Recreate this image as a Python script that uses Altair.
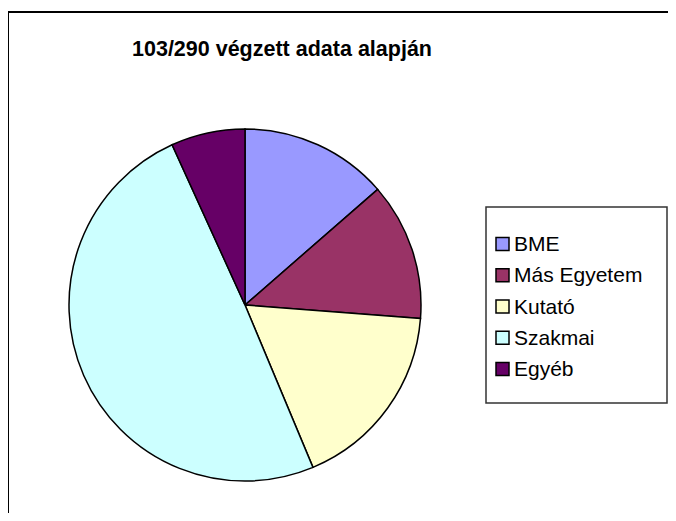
import altair as alt
import pandas as pd

categories = ["BME", "Más Egyetem", "Kutató", "Szakmai", "Egyéb"]
counts = [14, 13, 18, 51, 7]
colors = ["#9999FF", "#993366", "#FFFFCC", "#CCFFFF", "#660066"]
title_text = "103/290 végzett adata alapján"

W, H = 660, 505

df = pd.DataFrame({"cat": categories, "n": counts, "idx": list(range(len(categories)))})
color_scale = alt.Scale(domain=categories, range=colors)

pie = alt.Chart(df).mark_arc(radius=176, stroke="black", strokeWidth=1.5).encode(
    theta=alt.Theta("n:Q", stack=True),
    color=alt.Color("cat:N", scale=color_scale, legend=None),
    order=alt.Order("idx:Q"),
    x=alt.value(237),
    y=alt.value(297),
)

title = alt.Chart(pd.DataFrame({"t": [title_text]})).mark_text(
    font="Liberation Sans", fontSize=21.5, fontWeight="bold", color="black",
    align="center", baseline="middle"
).encode(text="t:N", x=alt.value(274), y=alt.value(42))

frame_top = alt.Chart(pd.DataFrame({"a": [0]})).mark_rule(color="black", strokeWidth=2).encode(
    x=alt.value(0), x2=alt.value(W), y=alt.value(4)
)
frame_left = alt.Chart(pd.DataFrame({"a": [0]})).mark_rule(color="black", strokeWidth=2).encode(
    x=alt.value(0), y=alt.value(4), y2=alt.value(H)
)

legend_box = alt.Chart(pd.DataFrame({"a": [0]})).mark_rect(
    fill="white", stroke="#333333", strokeWidth=1.5
).encode(x=alt.value(478), x2=alt.value(659), y=alt.value(199), y2=alt.value(395))

ypos = alt.Y("cat:N", scale=alt.Scale(domain=categories, range=[220.5, 376.5]), axis=None)

leg_sym = alt.Chart(df).mark_square(size=169, stroke="black", strokeWidth=1.5, opacity=1).encode(
    x=alt.value(494.5),
    y=ypos,
    fill=alt.Fill("cat:N", scale=color_scale, legend=None),
)
leg_txt = alt.Chart(df).mark_text(
    font="Liberation Sans", fontSize=21, align="left", baseline="middle", color="black", dy=1
).encode(x=alt.value(506), y=ypos, text="cat:N")

chart = alt.layer(frame_top, frame_left, title, pie, legend_box, leg_sym, leg_txt).properties(
    width=W, height=H, autosize=alt.AutoSizeParams(type="none"), padding=0
).configure_view(stroke=None)

chart.save("out.html", embed_options={"renderer": "svg", "actions": False})
